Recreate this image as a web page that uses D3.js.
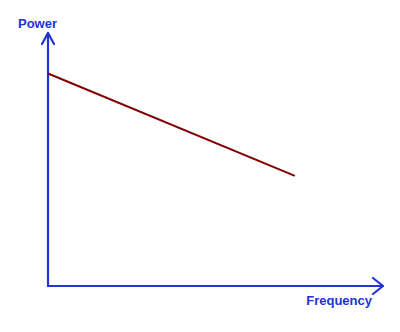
<!DOCTYPE html>
<html>
<head>
<meta charset="utf-8">
<script src="https://cdn.jsdelivr.net/npm/d3@7"></script>
<style>
  html, body { margin: 0; padding: 0; background: #fff; }
  svg { display: block; }
</style>
</head>
<body>
<svg id="chart"></svg>
<script>
// sketch data: a single falling power-vs-frequency line, no ticks
const frequency = [0, 73.7];
const power = [84, 43.5];
const axisLabels = ['Frequency', 'Power'];

const width = 400, height = 332;
const axisColor = '#2233d8';
const lineColor = '#800000';

const svg = d3.select('#chart').attr('width', width).attr('height', height);

const x = d3.scaleLinear().domain([0, 100]).range([48, 383]);
const y = d3.scaleLinear().domain([0, 100]).range([286, 33]);

// axes as plain arrows
const axes = svg.append('g')
  .attr('stroke', axisColor)
  .attr('stroke-width', 2.2)
  .attr('fill', 'none')
  .attr('stroke-linecap', 'round')
  .attr('stroke-linejoin', 'round');

axes.append('line')
  .attr('x1', x(0)).attr('y1', y(0))
  .attr('x2', x(100)).attr('y2', y(0));
axes.append('path')
  .attr('d', `M${x(100) - 10},${y(0) - 8} L${x(100)},${y(0)} L${x(100) - 10},${y(0) + 8}`);

axes.append('line')
  .attr('x1', x(0)).attr('y1', y(0))
  .attr('x2', x(0)).attr('y2', y(100));
axes.append('path')
  .attr('d', `M${x(0) - 6},${y(100) + 11} L${x(0)},${y(100)} L${x(0) + 6},${y(100) + 11}`);

// the line
const pts = frequency.map((f, i) => [f, power[i]]);
svg.append('path')
  .datum(pts)
  .attr('fill', 'none')
  .attr('stroke', lineColor)
  .attr('stroke-width', 2)
  .attr('d', d3.line().x(d => x(d[0])).y(d => y(d[1])));

// axis labels
const labelStyle = sel => sel
  .attr('font-family', 'Liberation Sans, Arial, sans-serif')
  .attr('font-size', '13px')
  .attr('font-weight', '700')
  .attr('fill', axisColor);

svg.append('text')
  .attr('x', 372).attr('y', 305)
  .attr('text-anchor', 'end')
  .call(labelStyle)
  .text(axisLabels[0]);

svg.append('text')
  .attr('x', 18).attr('y', 28)
  .call(labelStyle)
  .text(axisLabels[1]);
</script>
</body>
</html>
